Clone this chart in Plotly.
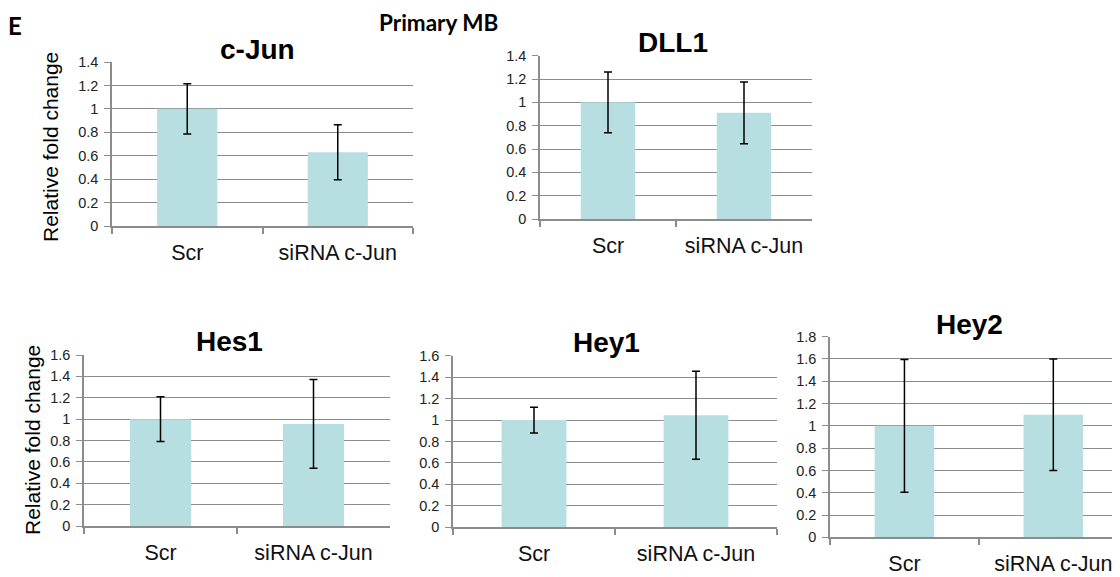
import plotly.graph_objects as go

# The page body has an 8px default margin: the figure is placed at (8, 8)
# in the 1120x577 window, so the figure is 1112x569 and all pixel
# positions below are window pixels shifted by OFF.
OFF = 8
W, H = 1112, 569

categories = ["Scr", "siRNA c-Jun"]
genes = ["c-Jun", "DLL1", "Hes1", "Hey1", "Hey2"]
values = {
    "c-Jun": [1.0, 0.63],
    "DLL1": [1.0, 0.91],
    "Hes1": [1.0, 0.955],
    "Hey1": [1.0, 1.045],
    "Hey2": [1.0, 1.10],
}
errors = {
    "c-Jun": [0.215, 0.235],
    "DLL1": [0.26, 0.265],
    "Hes1": [0.21, 0.415],
    "Hey1": [0.12, 0.41],
    "Hey2": [0.595, 0.50],
}
ymax = {"c-Jun": 1.4, "DLL1": 1.4, "Hes1": 1.6, "Hey1": 1.6, "Hey2": 1.8}

# panel boxes in window pixels: left, right, top, bottom, xrange_end
boxes = {
    "c-Jun": (112, 413, 62, 226, 1.5),
    "DLL1": (540, 812, 55.7, 219, 1.5),
    "Hes1": (84, 390, 355, 526, 1.5),
    "Hey1": (453, 777, 355.7, 527.3, 1.5),
    "Hey2": (830, 1120, 336.7, 537.3, 1.448),
}
title_pos = {
    "c-Jun": (257, 49),
    "DLL1": (673, 42),
    "Hes1": (229, 341),
    "Hey1": (606, 342),
    "Hey2": (969, 324),
}


def px(x):
    return (x - OFF) / W


def py(y):
    return 1 - (y - OFF) / H


BAR = "#B7DFE2"
GRID = "#8C8C8C"
FONT = "Liberation Sans, Arial, sans-serif"

fig = go.Figure()
annotations = []
for i, g in enumerate(genes, start=1):
    l, r, t, b, xend = boxes[g]
    xa = "x" if i == 1 else f"x{i}"
    ya = "y" if i == 1 else f"y{i}"
    fig.add_trace(go.Bar(
        x=categories, y=values[g], width=0.4,
        marker=dict(color=BAR, line=dict(width=0)),
        error_y=dict(type="data", array=errors[g], visible=True,
                     color="black", thickness=1.5, width=4),
        xaxis=xa, yaxis=ya, showlegend=False,
    ))
    xkey = "xaxis" if i == 1 else f"xaxis{i}"
    ykey = "yaxis" if i == 1 else f"yaxis{i}"
    fig.update_layout(**{
        xkey: dict(
            domain=[px(l), min(px(r), 1.0)], anchor=ya, type="category",
            range=[-0.5, xend], showgrid=False, showline=True,
            linecolor=GRID, linewidth=1.5, ticks="outside", tickson="boundaries",
            ticklen=6, tickcolor=GRID, tickwidth=1.5,
            tickfont=dict(family=FONT, size=21.5, color="#111"),
            ticklabelstandoff=6, fixedrange=True, automargin=False,
        ),
        ykey: dict(
            domain=[py(b), py(t)], anchor=xa, range=[0, ymax[g]],
            dtick=0.2, tick0=0, showgrid=True, gridcolor=GRID, gridwidth=1,
            showline=True, linecolor=GRID, linewidth=1.5, ticks="outside",
            ticklen=6, tickcolor=GRID, tickwidth=1,
            tickfont=dict(family=FONT, size=14.5, color="#222"),
            ticklabelstandoff=3,
            zeroline=False, fixedrange=True, automargin=False,
        ),
    })
    tx, ty = title_pos[g]
    annotations.append(dict(
        text=f"<b>{g}</b>", x=px(tx), y=py(ty), xref="paper", yref="paper",
        showarrow=False, xanchor="center", yanchor="middle",
        font=dict(family=FONT, size=28, color="black"),
    ))

for (x, yc) in [(50, 147), (32, 440)]:
    annotations.append(dict(
        text="Relative fold change", x=px(x), y=py(yc), xref="paper", yref="paper",
        showarrow=False, textangle=-90, xanchor="center", yanchor="middle",
        font=dict(family=FONT, size=21, color="black"),
    ))

annotations.append(dict(
    text="<b>Primary MB</b>", x=px(438), y=1.0, xref="paper", yref="paper",
    showarrow=False, xanchor="center", yanchor="top", borderpad=0,
    font=dict(family="Lato, Open Sans, sans-serif", size=22.5, color="black"),
))
annotations.append(dict(
    text="<b>E</b>", x=px(15), y=py(25), xref="paper", yref="paper",
    showarrow=False, xanchor="center", yanchor="middle",
    font=dict(family="Lato, Open Sans, sans-serif", size=24, color="black"),
))

fig.update_layout(
    width=W, height=H, margin=dict(l=0, r=0, t=0, b=0),
    paper_bgcolor="white", plot_bgcolor="white",
    annotations=annotations, bargap=0.6,
)

fig.write_html("out.html", config={"displayModeBar": False})
